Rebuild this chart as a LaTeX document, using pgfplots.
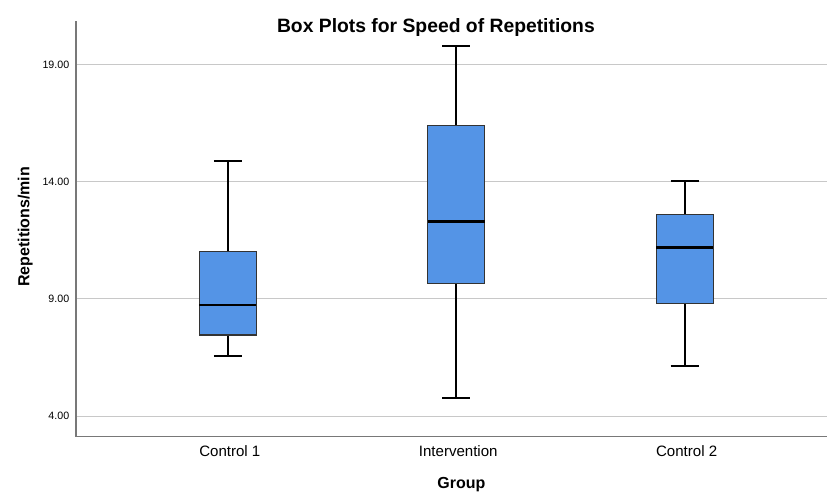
\documentclass[border=0pt]{standalone}
\usepackage{fontspec}
\setmainfont{Liberation Sans}
\usepackage{pgfplots}
\pgfplotsset{compat=1.18}
\definecolor{boxblue}{RGB}{84,148,230}
\definecolor{gridgray}{RGB}{200,200,200}
\definecolor{axgray}{RGB}{120,120,120}
\pgfplotsset{
  whisk/.style={black, line width=1.3pt, mark=none},
  boxs/.style={draw=black!80, line width=0.8pt, fill=boxblue, mark=none},
  med/.style={black, line width=2.2pt, mark=none},
}
\begin{document}
\begin{tikzpicture}
\path (0,0) rectangle (621pt,369.75pt);
\begin{axis}[
  at={(57pt,42pt)}, anchor=south west,
  scale only axis,
  width=564pt, height=312pt,
  xmin=0.335, xmax=3.625,
  ymin=3.12, ymax=20.86,
  axis x line*=bottom, axis y line*=left,
  axis line style={-, axgray, line width=0.9pt},
  xtick={1,2,3},
  xticklabels={Control 1, Intervention, Control 2},
  ytick={4,9,14,19},
  major tick length=0pt,
  ymajorgrids,
  grid style={gridgray, line width=0.75pt},
  /pgf/number format/assume math mode=true,
  yticklabel style={/pgf/number format/.cd, fixed, fixed zerofill, precision=2, /tikz/.cd, font=\fontsize{8}{9}\selectfont, xshift=-1.5pt},
  xticklabel style={font=\fontsize{11.3}{13}\selectfont, yshift=-3pt, xshift=1.5pt},
  title={Box Plots for Speed of Repetitions},
  title style={font=\bfseries\fontsize{14.5}{16}\selectfont, at={(rel axis cs:0.479,1)}, anchor=center, yshift=-11pt},
  xlabel={Group},
  xlabel style={font=\bfseries\fontsize{12}{14}\selectfont, at={(rel axis cs:0.513,0)}, anchor=center, yshift=-36pt},
  ylabel={Repetitions/min},
  ylabel style={font=\bfseries\fontsize{12}{14}\selectfont, at={(rel axis cs:0,0.505)}, anchor=center, yshift=38pt},
]
% Control 1: whiskers 6.56 / 14.89, quartiles 7.46 / 11.01, median 8.74
\addplot[whisk] coordinates {(1,11.01) (1,14.89)};
\addplot[whisk] coordinates {(0.939,14.89) (1.061,14.89)};
\addplot[whisk] coordinates {(1,7.46) (1,6.56)};
\addplot[whisk] coordinates {(0.939,6.56) (1.061,6.56)};
\addplot[boxs] coordinates {(0.875,7.46) (1.125,7.46) (1.125,11.01) (0.875,11.01)} -- cycle;
\addplot[med] coordinates {(0.875,8.74) (1.125,8.74)};
% Intervention: whiskers 4.78 / 19.78, quartiles 9.66 / 16.41, median 12.29
\addplot[whisk] coordinates {(2,16.41) (2,19.78)};
\addplot[whisk] coordinates {(1.939,19.78) (2.061,19.78)};
\addplot[whisk] coordinates {(2,9.66) (2,4.78)};
\addplot[whisk] coordinates {(1.939,4.78) (2.061,4.78)};
\addplot[boxs] coordinates {(1.875,9.66) (2.125,9.66) (2.125,16.41) (1.875,16.41)} -- cycle;
\addplot[med] coordinates {(1.875,12.29) (2.125,12.29)};
% Control 2: whiskers 6.13 / 14.02, quartiles 8.81 / 12.60, median 11.20
\addplot[whisk] coordinates {(3,12.60) (3,14.02)};
\addplot[whisk] coordinates {(2.939,14.02) (3.061,14.02)};
\addplot[whisk] coordinates {(3,8.81) (3,6.13)};
\addplot[whisk] coordinates {(2.939,6.13) (3.061,6.13)};
\addplot[boxs] coordinates {(2.875,8.81) (3.125,8.81) (3.125,12.60) (2.875,12.60)} -- cycle;
\addplot[med] coordinates {(2.875,11.20) (3.125,11.20)};
\end{axis}
\end{tikzpicture}
\end{document}
